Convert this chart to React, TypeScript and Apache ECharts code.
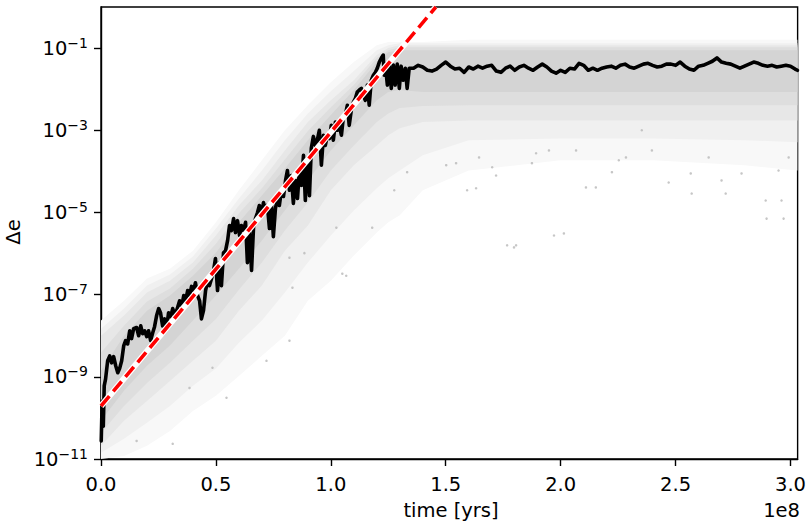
import React, { useEffect, useRef } from "react";
import * as echarts from "echarts";

// time in units of 1e8 yrs, values as log10(Δe)
const lineTime = [
  0.001, 0.005, 0.010, 0.014, 0.020, 0.029, 0.038, 0.046, 0.055, 0.064,
  0.073, 0.081, 0.090, 0.099, 0.107, 0.116, 0.125, 0.133, 0.142, 0.155,
  0.164, 0.173, 0.181, 0.190, 0.199, 0.207, 0.216, 0.225, 0.233, 0.242,
  0.251, 0.259, 0.268, 0.277, 0.285, 0.294, 0.303, 0.312, 0.320, 0.329,
  0.342, 0.351, 0.360, 0.368, 0.377, 0.386, 0.394, 0.403, 0.411, 0.420,
  0.429, 0.437, 0.446, 0.455, 0.464, 0.472, 0.481, 0.490, 0.498, 0.507,
  0.516, 0.524, 0.533, 0.542, 0.551, 0.559, 0.568, 0.577, 0.585, 0.594,
  0.603, 0.611, 0.620, 0.629, 0.637, 0.646, 0.655, 0.664, 0.672, 0.681,
  0.689, 0.698, 0.707, 0.716, 0.724, 0.733, 0.742, 0.750, 0.759, 0.768,
  0.776, 0.785, 0.794, 0.803, 0.811, 0.820, 0.828, 0.837, 0.846, 0.855,
  0.863, 0.872, 0.881, 0.889, 0.898, 0.907, 0.915, 0.924, 0.933, 0.941,
  0.950, 0.959, 0.968, 0.976, 0.985, 0.994, 1.002, 1.011, 1.020, 1.028,
  1.037, 1.046, 1.054, 1.063, 1.072, 1.080, 1.089, 1.098, 1.107, 1.115,
  1.124, 1.133, 1.141, 1.150, 1.159, 1.167, 1.176, 1.185, 1.194, 1.202,
  1.211, 1.220, 1.228, 1.232, 1.237, 1.246, 1.254, 1.263, 1.272, 1.280,
  1.289, 1.298, 1.306, 1.315, 1.324, 1.332, 1.341,
];
const lineLogDe = [
  -10.56, -9.59, -10.20, -9.22, -9.05, -8.61, -8.49, -8.66, -8.51, -8.73,
  -8.90, -8.80, -8.61, -8.24, -8.12, -8.20, -7.88, -8.07, -7.83, -7.80,
  -8.00, -7.76, -7.95, -7.88, -8.02, -7.88, -8.12, -7.93, -7.78, -7.51,
  -7.34, -7.44, -7.76, -7.59, -7.83, -7.44, -7.54, -7.34, -7.49, -7.39,
  -7.15, -7.29, -7.02, -7.15, -6.90, -7.02, -6.80, -6.90, -6.71, -7.02,
  -7.15, -7.59, -7.39, -6.90, -6.66, -6.78, -6.61, -6.41, -6.12, -6.90,
  -6.22, -6.78, -5.98, -5.93, -5.68, -5.32, -5.44, -5.15, -5.49, -5.20,
  -5.56, -5.32, -5.44, -5.24, -6.22, -5.49, -6.41, -5.32, -5.15, -5.00,
  -4.83, -5.07, -4.76, -4.95, -4.83, -5.39, -4.83, -5.59, -4.90, -4.66,
  -4.83, -4.46, -4.61, -4.22, -3.98, -4.46, -4.10, -4.78, -4.22, -4.66,
  -3.98, -4.34, -3.61, -4.71, -3.68, -4.59, -3.44, -3.15, -3.37, -3.24,
  -3.00, -3.85, -3.12, -3.37, -3.12, -3.20, -2.88, -3.24, -2.80, -3.00,
  -2.88, -3.12, -2.71, -2.63, -2.39, -2.88, -2.51, -2.32, -2.22, -2.07,
  -2.02, -1.98, -2.15, -2.27, -1.90, -2.39, -1.78, -1.66, -1.59, -1.49,
  -1.34, -1.24, -1.17, -1.66, -1.39, -1.90, -1.34, -1.98, -1.41, -1.90,
  -1.39, -1.98, -1.44, -1.78, -1.49, -1.98, -1.49,
];
const plateauTime = [
  1.36, 1.38, 1.40, 1.42, 1.44, 1.46, 1.48, 1.50, 1.52, 1.54,
  1.56, 1.58, 1.60, 1.62, 1.64, 1.66, 1.68, 1.70, 1.72, 1.74,
  1.76, 1.78, 1.80, 1.82, 1.84, 1.86, 1.88, 1.90, 1.92, 1.94,
  1.96, 1.98, 2.00, 2.02, 2.04, 2.06, 2.08, 2.10, 2.12, 2.14,
  2.16, 2.18, 2.20, 2.22, 2.24, 2.26, 2.28, 2.30, 2.32, 2.34,
  2.36, 2.38, 2.40, 2.42, 2.44, 2.46, 2.48, 2.50, 2.52, 2.54,
  2.56, 2.58, 2.60, 2.62, 2.64, 2.66, 2.68, 2.70, 2.72, 2.74,
  2.76, 2.78, 2.80, 2.82, 2.84, 2.86, 2.88, 2.90, 2.92, 2.94,
  2.96, 2.98, 3.00, 3.02, 3.03,
];
const plateauLogDe = [
  -1.49, -1.42, -1.46, -1.54, -1.56, -1.51, -1.42, -1.34, -1.44, -1.51,
  -1.49, -1.59, -1.46, -1.51, -1.44, -1.49, -1.44, -1.42, -1.56, -1.59,
  -1.49, -1.44, -1.54, -1.46, -1.42, -1.49, -1.54, -1.46, -1.39, -1.46,
  -1.56, -1.61, -1.54, -1.59, -1.49, -1.51, -1.37, -1.42, -1.54, -1.49,
  -1.54, -1.49, -1.46, -1.44, -1.49, -1.42, -1.39, -1.46, -1.49, -1.44,
  -1.39, -1.37, -1.42, -1.46, -1.44, -1.39, -1.39, -1.42, -1.34, -1.44,
  -1.51, -1.54, -1.44, -1.42, -1.37, -1.32, -1.24, -1.34, -1.37, -1.39,
  -1.44, -1.49, -1.44, -1.39, -1.34, -1.37, -1.42, -1.44, -1.42, -1.46,
  -1.44, -1.42, -1.44, -1.51, -1.54,
];

// exponential growth fit (red dashed)
const fitTime = [0, 1.457];
const fitLogDe = [-9.71, 0];

// envelopes of the scatter cloud at several densities (log10 Δe)
const cloudTime = [0, 0.1, 0.2, 0.3, 0.4, 0.5, 0.6, 0.7, 0.8, 0.9, 1.0, 1.1, 1.2, 1.25, 1.3, 1.4, 1.6, 2.0, 2.4, 2.8, 3.03];
const outerUpper = [-7.63, -7.15, -6.61, -6.37, -5.93, -5.24, -4.46, -3.73, -3.0, -2.39, -1.83, -1.34, -0.93, -0.85, -0.85, -0.85, -0.8, -0.8, -0.8, -0.8, -0.8];
const outerLower = [-11.0, -10.93, -10.68, -10.32, -9.83, -9.46, -8.98, -8.49, -8.0, -7.15, -6.66, -6.05, -5.49, -5.24, -5.07, -4.46, -3.98, -3.73, -3.73, -3.85, -3.98];
const sparseUpper = [-7.83, -7.34, -6.78, -6.51, -6.07, -5.39, -4.66, -3.98, -3.24, -2.59, -2.05, -1.56, -1.05, -0.93, -0.88, -0.88, -0.88, -0.88, -0.88, -0.88, -0.88];
const sparseLower = [-10.85, -10.51, -10.12, -9.71, -9.22, -8.8, -8.17, -7.63, -6.95, -6.22, -5.56, -4.95, -4.41, -4.17, -3.98, -3.61, -3.24, -3.2, -3.2, -3.24, -3.29];
const midUpper = [-8.0, -7.51, -6.95, -6.66, -6.22, -5.56, -4.83, -4.22, -3.49, -2.8, -2.27, -1.78, -1.17, -1.0, -0.93, -0.93, -0.93, -0.93, -0.93, -0.93, -0.93];
const midLower = [-10.68, -10.07, -9.59, -9.1, -8.61, -8.12, -7.39, -6.78, -5.93, -5.32, -4.46, -3.85, -3.37, -3.12, -2.95, -2.8, -2.76, -2.76, -2.76, -2.76, -2.76];
const denseUpper = [-8.41, -7.76, -7.17, -6.85, -6.37, -5.76, -5.02, -4.41, -3.71, -3.02, -2.44, -1.9, -1.24, -1.05, -0.98, -0.98, -0.98, -0.98, -0.98, -0.98, -0.98];
const denseLower = [-10.37, -9.71, -9.15, -8.66, -8.12, -7.59, -6.88, -6.22, -5.44, -4.76, -3.98, -3.37, -2.8, -2.59, -2.46, -2.41, -2.39, -2.39, -2.39, -2.39, -2.39];
const coreUpper = [-8.85, -8.0, -7.39, -7.02, -6.54, -5.98, -5.24, -4.59, -3.93, -3.24, -2.63, -2.02, -1.34, -1.1, -1.05, -1.05, -1.05, -1.05, -1.05, -1.05, -1.05];
const coreLower = [-10.07, -9.34, -8.73, -8.24, -7.63, -7.02, -6.37, -5.68, -4.95, -4.22, -3.49, -2.88, -2.27, -2.07, -2.02, -2.07, -2.07, -2.07, -2.07, -2.07, -2.07];

// isolated scatter points
const isolatedTime = [1.276, 1.332, 1.502, 1.593, 1.767, 1.971, 1.702, 1.875, 2.110, 2.223, 2.470, 2.570, 2.787, 2.896, 2.892, 2.284, 2.644, 2.067, 2.397, 1.180, 1.024, 1.050, 0.833, 0.820, 1.545, 1.632, 1.719, 1.797, 2.014, 2.153, 2.253, 2.353, 2.566, 2.700, 2.718, 2.961, 2.970, 2.992, 2.948, 1.949, 1.645, 1.893, 1.806, 0.720, 1.067, 0.885, 0.820, 0.485, 0.312, 0.155, 0.546, 0.385];
const isolatedLogDe = [-4.46, -4.02, -3.85, -4.46, -5.80, -5.56, -3.90, -3.80, -4.39, -4.02, -4.27, -4.54, -4.05, -5.15, -4.71, -3.66, -3.66, -3.49, -3.49, -5.37, -5.37, -6.49, -6.83, -6.10, -3.80, -4.41, -4.10, -5.85, -5.51, -4.39, -3.73, -3.00, -4.05, -4.22, -4.54, -4.71, -5.15, -3.66, -3.98, -3.49, -3.66, -3.56, -5.80, -8.61, -6.54, -5.99, -8.12, -8.78, -10.63, -10.56, -9.51, -9.27];

const FONT = "DejaVu Sans";
const FS = 19.5;

export default function App() {
  const ref = useRef<HTMLDivElement>(null);
  useEffect(() => {
    const chart = echarts.init(ref.current as HTMLDivElement, null, { renderer: "svg" });
    const pts = (ts: number[], ls: number[]) => ts.map((t, i) => [t, Math.pow(10, ls[i])]);
    const band = (upper: number[], lower: number[], color: string) => ({
      type: "custom",
      coordinateSystem: "cartesian2d",
      silent: true,
      z: 1,
      data: [[1, 1e-5]],
      renderItem: (_params: any, api: any) => {
        const p: number[][] = cloudTime.map((t, i) => api.coord([t, Math.pow(10, upper[i])]));
        for (let i = cloudTime.length - 1; i >= 0; i--) {
          p.push(api.coord([cloudTime[i], Math.pow(10, lower[i])]));
        }
        return { type: "polygon", shape: { points: p }, style: { fill: color } };
      },
    });

    const option: any = {
      animation: false,
      backgroundColor: "#fff",
      grid: { left: 101, right: 10, top: 7, bottom: 65, show: true, borderColor: "#000", borderWidth: 1.4, backgroundColor: "transparent" },
      xAxis: {
        type: "value",
        min: 0,
        max: 3.031,
        interval: 0.5,
        axisLine: { lineStyle: { color: "#000", width: 1.4 } },
        axisTick: { length: 7, lineStyle: { color: "#000", width: 1.4 } },
        splitLine: { show: false },
        axisLabel: {
          color: "#000",
          fontFamily: FONT,
          fontSize: FS,
          margin: 15,
          showMaxLabel: false,
          formatter: (v: number) => (Math.abs(v / 0.5 - Math.round(v / 0.5)) < 1e-6 ? v.toFixed(1) : ""),
        },
      },
      yAxis: {
        type: "log",
        logBase: 10,
        min: 1e-11,
        max: 1,
        interval: 2,
        axisLine: { lineStyle: { color: "#000", width: 1.4 } },
        axisTick: { length: 7, lineStyle: { color: "#000", width: 1.4 } },
        splitLine: { show: false },
        minorTick: { show: false },
        axisLabel: {
          color: "#000",
          margin: 13,
          showMaxLabel: false,
          formatter: (v: number) => {
            const e = Math.round(Math.log10(v));
            if (e % 2 === 0) return "";
            return "{b|10}{s|\u2212" + Math.abs(e) + "}";
          },
          rich: {
            b: { fontFamily: FONT, fontSize: FS, color: "#000" },
            s: { fontFamily: FONT, fontSize: 14, color: "#000", padding: [0, 0, 11, 0] },
          },
        },
      },
      graphic: [
        { type: "text", x: 13, y: 232, rotation: Math.PI / 2, style: { text: "\u0394e", font: `${FS}px "${FONT}"`, fill: "#000", align: "center", verticalAlign: "middle" } },
        { type: "text", x: 451, y: 510, style: { text: "time [yrs]", font: `${FS}px "${FONT}"`, fill: "#000", align: "center", verticalAlign: "middle" } },
        { type: "text", x: 800, y: 510, style: { text: "1e8", font: `${FS}px "${FONT}"`, fill: "#000", align: "right", verticalAlign: "middle" } },
      ],
      series: [
        band(outerUpper, outerLower, "#f8f8f8"),
        band(sparseUpper, sparseLower, "#f0f0f0"),
        band(midUpper, midLower, "#e7e7e7"),
        band(denseUpper, denseLower, "#dedede"),
        band(coreUpper, coreLower, "#d4d4d4"),
        {
          type: "scatter",
          z: 2,
          silent: true,
          symbolSize: 2.5,
          itemStyle: { color: "#b8b8b8", opacity: 0.8 },
          data: pts(isolatedTime, isolatedLogDe),
        },
        {
          type: "line",
          z: 3,
          silent: true,
          showSymbol: false,
          symbol: "none",
          lineStyle: { color: "#000", width: 3.6, join: "round", cap: "round" },
          data: pts(lineTime.concat(plateauTime), lineLogDe.concat(plateauLogDe)),
        },
        {
          type: "line",
          z: 4,
          silent: true,
          showSymbol: false,
          symbol: "none",
          lineStyle: { color: "#fff", width: 6 },
          data: pts(fitTime, fitLogDe),
        },
        {
          type: "line",
          z: 5,
          silent: true,
          showSymbol: false,
          symbol: "none",
          lineStyle: { color: "#ff0000", width: 3.6, type: [13, 6], cap: "butt" },
          data: pts(fitTime, fitLogDe),
        },
      ],
    };
    chart.setOption(option);
    return () => chart.dispose();
  }, []);
  return <div ref={ref} style={{ position: "fixed", left: 0, top: 0, width: 809, height: 524 }} />;
}
